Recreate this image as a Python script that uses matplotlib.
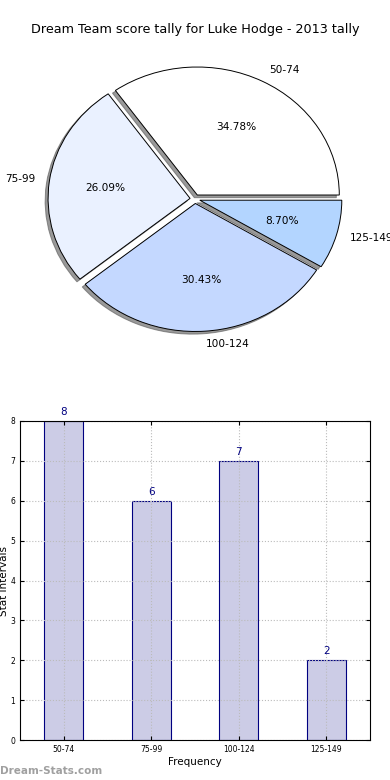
import matplotlib
matplotlib.use("Agg")
import matplotlib.pyplot as plt

# datos
intervals = ["50-74", "75-99", "100-124", "125-149"]
counts = [8, 6, 7, 2]
pie_colors = ["#FFFFFF", "#EAF1FF", "#C4D8FF", "#B3D5FF"]
title = "Dream Team score tally for Luke Hodge - 2013 tally"

W, H = 390, 780
fig = plt.figure(figsize=(W / 100, H / 100), dpi=100)

# 1. Pie (achatado, como en el original)
Rx, Ry = 142.0, 128.0
cx, cy = 195, 199
half = 1.25
ax1 = fig.add_axes([(cx - half * Rx) / W, (H - cy - half * Ry) / H,
                    2 * half * Rx / W, 2 * half * Ry / H])
ax1.pie(counts, labels=intervals, colors=pie_colors, autopct="%1.2f%%",
        explode=[0.035] * 4,
        shadow=dict(ox=-0.015, oy=-0.015, facecolor="#555555",
                    edgecolor="#555555", alpha=0.6),
        startangle=0,
        wedgeprops=dict(edgecolor="black", linewidth=0.7),
        textprops=dict(fontsize=7.6))
ax1.set_xlim(-half, half)
ax1.set_ylim(-half, half)
ax1.set_aspect("auto")
ax1.axis("off")
fig.text(0.5, 1 - 30 / H, title, ha="center", va="center", fontsize=9.2)

# 2. Barras
ax2 = fig.add_axes([20 / W, (H - 740) / H, 350 / W, 319 / H])
x = range(len(intervals))
ax2.bar(x, counts, width=0.45, color="#CCCCE6", edgecolor="navy",
        linewidth=0.8, zorder=2)
for xi, v in zip(x, counts):
    ax2.text(xi, v + 0.1, str(v), ha="center", va="bottom", color="navy",
             fontsize=7.5)
ax2.set_xlim(-0.5, 3.5)
ax2.set_ylim(0, 8)
ax2.set_xticks(list(x))
ax2.set_xticklabels(intervals)
ax2.set_yticks(range(9))
ax2.tick_params(labelsize=5.5, direction="in", length=3, right=True, top=True)
ax2.grid(True, linestyle=":", color="#BBBBBB", linewidth=0.8, zorder=3)
ax2.set_axisbelow(False)
for s in ax2.spines.values():
    s.set_zorder(4)
ax2.set_xlabel("Frequency", fontsize=7.5, labelpad=2)
ax2.set_ylabel("Stat Intervals", fontsize=7.5, labelpad=1)

fig.text(0.0, 1 - 771 / H, "Dream-Stats.com", ha="left", va="center",
         color="#A0A0A0", fontsize=7.5, fontweight="bold")

fig.savefig("out.png", dpi=100)
